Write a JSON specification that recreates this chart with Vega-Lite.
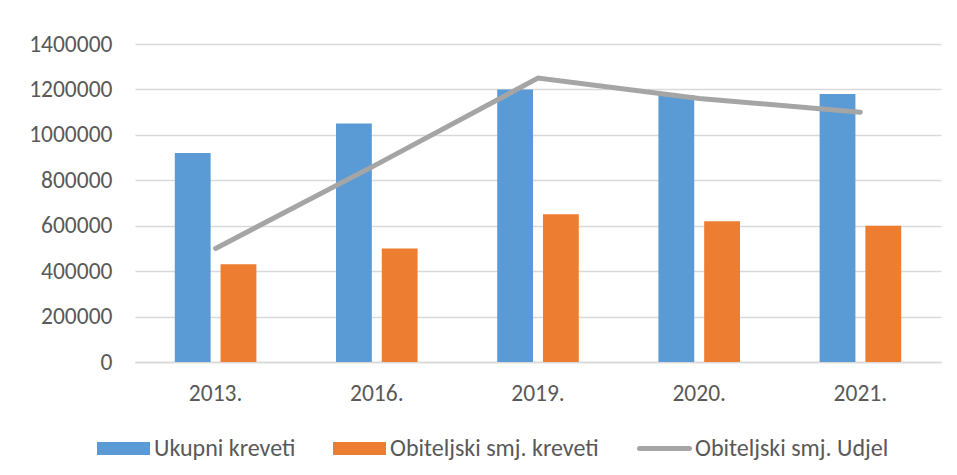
{
  "$schema": "https://vega.github.io/schema/vega-lite/v6.json",
  "width": 806,
  "height": 318,
  "autosize": {"type": "none"},
  "padding": {"left": 135, "top": 44, "right": 16, "bottom": 113},
  "background": "white",
  "config": {
    "view": {"stroke": null},
    "font": "Carlito, Calibri, Liberation Sans"
  },
  "datasets": {
    "bars": [
      {"year": "2013.", "series": "Ukupni kreveti", "value": 920000},
      {"year": "2013.", "series": "Obiteljski smj. kreveti", "value": 430000},
      {"year": "2016.", "series": "Ukupni kreveti", "value": 1050000},
      {"year": "2016.", "series": "Obiteljski smj. kreveti", "value": 500000},
      {"year": "2019.", "series": "Ukupni kreveti", "value": 1200000},
      {"year": "2019.", "series": "Obiteljski smj. kreveti", "value": 650000},
      {"year": "2020.", "series": "Ukupni kreveti", "value": 1175000},
      {"year": "2020.", "series": "Obiteljski smj. kreveti", "value": 620000},
      {"year": "2021.", "series": "Ukupni kreveti", "value": 1180000},
      {"year": "2021.", "series": "Obiteljski smj. kreveti", "value": 600000}
    ],
    "line": [
      {"year": "2013.", "series": "Obiteljski smj. Udjel", "value": 500000},
      {"year": "2016.", "series": "Obiteljski smj. Udjel", "value": 870000},
      {"year": "2019.", "series": "Obiteljski smj. Udjel", "value": 1250000},
      {"year": "2020.", "series": "Obiteljski smj. Udjel", "value": 1160000},
      {"year": "2021.", "series": "Obiteljski smj. Udjel", "value": 1100000}
    ]
  },
  "layer": [
    {
      "data": {"name": "bars"},
      "mark": {"type": "bar"},
      "encoding": {
        "x": {
          "field": "year", "type": "nominal", "sort": null,
          "scale": {"paddingInner": 0, "paddingOuter": 0},
          "axis": {
            "title": null, "labelAngle": 0, "labelFontSize": 23.5, "labelColor": "#595959",
            "domain": true, "domainColor": "#D9D9D9", "domainWidth": 1.5, "ticks": false, "labelPadding": 19
          }
        },
        "xOffset": {
          "field": "series", "type": "nominal",
          "sort": ["Ukupni kreveti", "Obiteljski smj. kreveti"],
          "scale": {"paddingInner": 0.217, "paddingOuter": 0.87}
        },
        "y": {
          "field": "value", "type": "quantitative",
          "scale": {"domain": [0, 1400000], "nice": false},
          "axis": {
            "title": null, "values": [0, 200000, 400000, 600000, 800000, 1000000, 1200000, 1400000],
            "format": "d", "labelFontSize": 23.5, "labelColor": "#595959",
            "grid": true, "gridColor": "#D9D9D9", "gridWidth": 1.5, "domain": false, "ticks": false, "labelPadding": 23
          }
        },
        "color": {
          "field": "series", "type": "nominal",
          "scale": {
            "domain": ["Ukupni kreveti", "Obiteljski smj. kreveti", "Obiteljski smj. Udjel"],
            "range": ["#5B9BD5", "#ED7D31", "#A5A5A5"]
          },
          "legend": {
            "title": null, "orient": "none", "legendX": -38, "legendY": 378,
            "direction": "horizontal", "gridAlign": "none", "columnPadding": 37,
            "labelFontSize": 24, "labelColor": "#595959", "labelOffset": 4, "labelLimit": 0,
            "symbolSize": 2809, "symbolType": "M-1,-0.245H1V0.245H-1Z", "symbolStrokeWidth": 0,
            "encode": {
              "symbols": {
                "update": {
                  "shape": {"signal": "datum.value === 'Obiteljski smj. Udjel' ? 'M-0.95,-0.09H0.95A0.09,0.09,0,0,1,0.95,0.09H-0.95A0.09,0.09,0,0,1,-0.95,-0.09Z' : 'M-1,-0.245H1V0.245H-1Z'"},
                  "fill": {"scale": "color", "field": "value"},
                  "fillOpacity": {"value": 1},
                  "strokeWidth": {"value": 0}
                }
              }
            }
          }
        }
      }
    },
    {
      "data": {"name": "line"},
      "mark": {"type": "line", "strokeWidth": 5, "strokeCap": "round", "strokeJoin": "miter"},
      "encoding": {
        "x": {"field": "year", "type": "nominal", "sort": null},
        "y": {"field": "value", "type": "quantitative"},
        "color": {"field": "series", "type": "nominal"}
      }
    }
  ]
}
